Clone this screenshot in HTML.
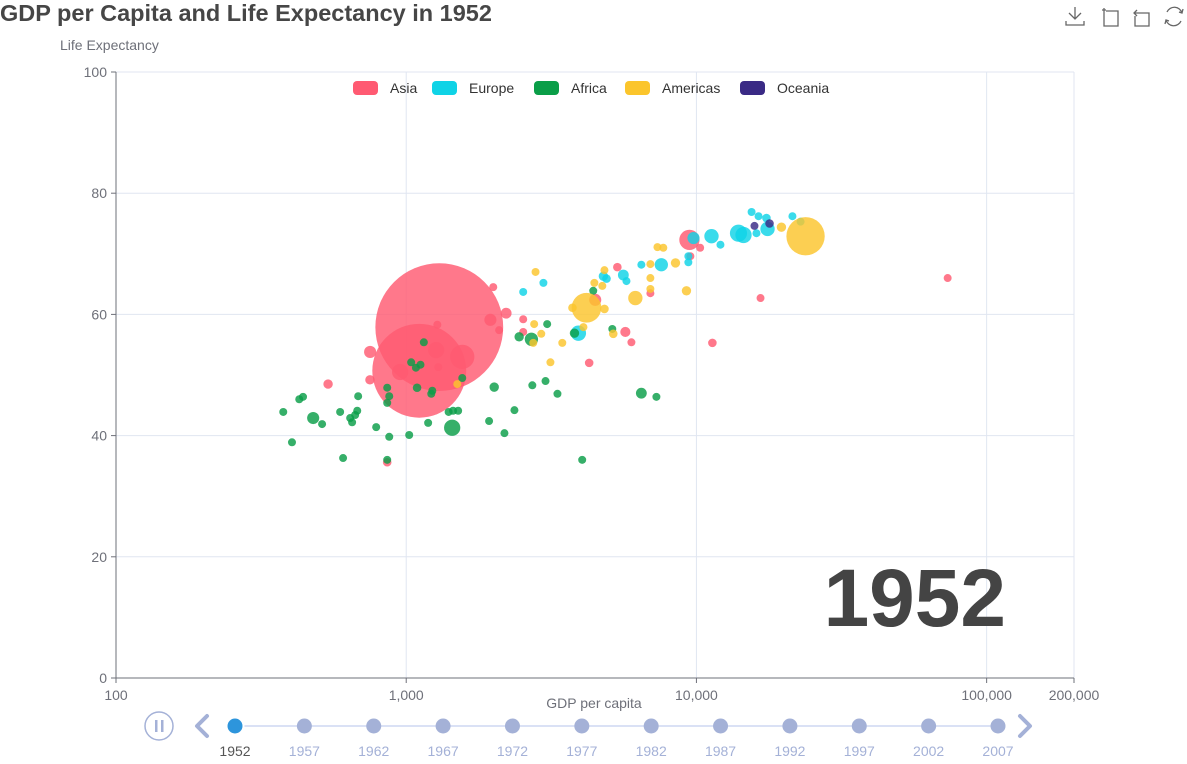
<!DOCTYPE html>
<html><head><meta charset="utf-8"><style>
html,body{margin:0;padding:0;background:#fff;}
svg{display:block;font-family:"Liberation Sans",sans-serif;}
</style></head><body>
<svg id="chart" width="1187" height="764"></svg>
<script>
const regions=["Asia","Europe","Africa","Americas","Oceania"];
const colors=["#ff5a72","#0fd3e6","#0a9e48","#fbc52c","#3a2a85"];
const xTicks=[100,1000,10000,100000,200000];
const xTickLabels=["100","1,000","10,000","100,000","200,000"];
const yTicks=[0,20,40,60,80,100];
const years=["1952","1957","1962","1967","1972","1977","1982","1987","1992","1997","2002","2007"];
// [gdp, life, pop-size]
const asiaData=[[1300,57.9,556],[1109,50.7,300],[1560,53.0,20],[1268,54.1,9],[953,50.5,9],[751,53.8,5],[538,48.5,3],[750,49.2,3],[1950,59.1,5],[2210,60.2,4],[1995,64.5,2],[2090,57.4,2],[2530,59.2,2],[2530,57.1,1.5],[860,35.6,2.5],[9460,72.3,14],[10300,71.0,2],[9530,69.6,2],[5690,57.1,3.5],[5970,55.4,2],[4270,52.0,2.5],[5340,67.8,2.5],[6940,63.5,2],[4480,62.4,5],[11350,55.3,2.5],[16630,62.7,1.5],[73400,66.0,1.5],[1280,58.3,2],[1290,51.3,2]];
const europeData=[[2530,63.7,1.5],[2970,65.2,1.5],[3920,56.9,8],[4780,66.3,3],[4900,65.9,2.5],[5600,66.5,4],[5740,65.5,2],[6460,68.2,2],[7570,68.2,6],[9380,68.6,2],[9380,69.6,2],[9770,72.6,5],[11270,72.9,7],[12100,71.5,2],[13960,73.4,10],[14530,73.1,9],[15490,76.9,1.5],[16370,76.2,2],[17430,75.9,2.5],[16100,73.4,2],[17580,74.1,7],[21420,76.2,2],[22850,75.3,2]];
const africaData=[[1150,55.4,1.5],[1040,52.1,1.5],[1080,51.2,2],[1120,51.7,1.5],[1560,49.5,2],[860,47.9,1.5],[1090,47.9,2.5],[1230,47.4,2],[1220,46.9,2],[874,46.5,2],[860,45.4,2],[683,46.5,1.5],[441,46.4,1.5],[428,46.0,1],[377,43.9,1.5],[478,42.9,5],[513,41.9,2],[592,43.9,1.5],[678,44.1,1.5],[667,43.4,1.5],[641,42.9,1.5],[651,42.2,1.5],[788,41.4,2],[1400,43.9,2],[1450,44.1,2],[1510,44.1,2],[1440,41.3,9],[1190,42.1,1.5],[2010,48.0,3],[2720,48.3,1.5],[3020,49.0,1.5],[3320,46.9,1.5],[2360,44.2,1.5],[1930,42.4,1.5],[2180,40.4,1.5],[404,38.9,1.5],[874,39.8,1.5],[1024,40.1,2],[606,36.3,2],[860,36.0,1.5],[2450,56.3,3],[2700,55.9,6],[3060,58.4,2],[3800,56.9,3],[4410,63.9,1.5],[5130,57.6,1.5],[6460,47.0,4],[7280,46.4,1.5],[4040,36.0,1.5]];
const americasData=[[23770,72.9,50],[4180,61.1,30],[3740,61.1,2.5],[4820,60.9,2.5],[6160,62.7,7],[8470,68.5,3],[6940,68.3,2],[6940,66.0,2],[6940,64.2,2],[9240,63.9,3],[7340,71.1,2],[7690,71.0,2],[4450,65.2,2],[4740,64.7,2],[4820,67.3,2],[2790,67.0,2],[2760,58.4,2],[2920,56.8,2],[4080,57.9,2],[5170,56.8,2.5],[2740,55.3,2],[3450,55.3,2],[3140,52.1,2],[19630,74.4,3],[1500,48.5,2]];
const oceaniaData=[[15850,74.6,2],[17860,75.0,2.5]];
const seriesData=[asiaData,europeData,africaData,americasData,oceaniaData];

const NS="http://www.w3.org/2000/svg";
const svg=document.getElementById('chart');
const L=116,R=1074,T=72,B=678;
const xScale=v=>L+(Math.log10(v)-2)/(Math.log10(200000)-2)*(R-L);
const yScale=v=>B-v/100*(B-T);
function mk(tag,attrs,parent){const e=document.createElementNS(NS,tag);for(const k in attrs)e.setAttribute(k,attrs[k]);(parent||svg).appendChild(e);return e;}
function txt(s,attrs,parent){const e=mk('text',attrs,parent);e.textContent=s;return e;}

let t=txt("GDP per Capita and Life Expectancy in 1952",{x:0,y:21,'font-size':23.5,'font-weight':'bold',fill:'#464646'});

t=txt("Life Expectancy",{x:60,y:50,'font-size':14,fill:'#6e7079'});

t=txt("GDP per capita",{x:594,y:708,'font-size':14,fill:'#6e7079','text-anchor':'middle'});


const grid=mk('g',{});

yTicks.forEach(v=>{
  const y=yScale(v);
  if(v>0){const ln=mk('line',{x1:L,x2:R,y1:y,y2:y,stroke:'#e0e6f1'},grid);}
  const tk=mk('line',{x1:L-5,x2:L,y1:y,y2:y,stroke:'#6e7079'},grid);
  
  const lb=txt(String(v),{x:L-9,y:y+5,'font-size':14,fill:'#6e7079','text-anchor':'end'});
  
});
xTicks.forEach((v,i)=>{
  const x=xScale(v);
  if(i>0){const ln=mk('line',{x1:x,x2:x,y1:T,y2:B,stroke:'#e0e6f1'},grid);}
  const tk=mk('line',{x1:x,x2:x,y1:B,y2:B+5,stroke:'#6e7079'},grid);
  
  const lb=txt(xTickLabels[i],{x:x,y:B+22,'font-size':14,fill:'#6e7079','text-anchor':'middle'});
  
});
let ax=mk('line',{x1:L,x2:L,y1:T,y2:B,stroke:'#6e7079'});

ax=mk('line',{x1:L,x2:R,y1:B,y2:B,stroke:'#6e7079'});


t=txt("1952",{x:1006,y:626,'font-size':82,'font-weight':'bold',fill:'#444','text-anchor':'end'});


seriesData.forEach((arr,si)=>{
  const g=mk('g',{});
  
  
  arr.forEach(d=>{
    const r=Math.max(4,Math.sqrt(d[2])*2.71);
    const c=mk('circle',{cx:xScale(d[0]),cy:yScale(d[1]),r:r,fill:colors[si],'fill-opacity':0.82},g);
    
    
  });
});

const legX=[353,432,534,625,740];
regions.forEach((n,i)=>{
  const g=mk('g',{});
  
  
  mk('rect',{x:legX[i],y:81,width:25,height:14,rx:4,fill:colors[i]},g);
  txt(n,{x:legX[i]+37,y:93,'font-size':14,fill:'#333'},g);
});

const tb=mk('g',{fill:'none',stroke:'#666','stroke-width':1.3});

let ic=mk('path',{d:'M1075 7 V19 M1069 13 L1075 19 L1081 13 M1066 21 V25 H1084 V21'},tb);

ic=mk('path',{d:'M1104 8 V11 M1102 10 H1106 M1104 11 V26 H1118 V11 H1106'},tb);

ic=mk('path',{d:'M1137 10 L1134 13 L1137 16 M1134 13 H1149 V26 H1135 V16'},tb);

ic=mk('path',{d:'M1182 13 A8 8 0 0 0 1167 12 M1166 20 A8 8 0 0 0 1181 21 M1179 12 L1182 13 L1183 9 M1169 21 L1166 20 L1165 24'},tb);


const tl=mk('g',{});

const ty=726,tx0=235,tx1=998;
mk('line',{x1:tx0,x2:tx1,y1:ty,y2:ty,stroke:'#dae1f5','stroke-width':2},tl);
let pb=mk('g',{},tl);

mk('circle',{cx:159,cy:ty,r:14,fill:'none',stroke:'#a4b1d7','stroke-width':1.5},pb);
mk('rect',{x:155,y:720,width:2.5,height:12,fill:'#a4b1d7'},pb);
mk('rect',{x:161,y:720,width:2.5,height:12,fill:'#a4b1d7'},pb);
let ar=mk('path',{d:'M207 716 L197 726 L207 736',fill:'none',stroke:'#a4b1d7','stroke-width':4,'stroke-linecap':'round','stroke-linejoin':'round'},tl);

ar=mk('path',{d:'M1020 716 L1030 726 L1020 736',fill:'none',stroke:'#a4b1d7','stroke-width':4,'stroke-linecap':'round','stroke-linejoin':'round'},tl);

years.forEach((y,i)=>{
  const x=tx0+i*(tx1-tx0)/(years.length-1);
  const cur=i===0;
  const c=mk('circle',{cx:x,cy:ty,r:cur?8.5:7.5,fill:cur?'#2d95dc':'#a4b1d7',stroke:cur?'#fff':'none','stroke-width':2},tl);
  
  const lb=txt(y,{x:x,y:756,'font-size':14,fill:cur?'#555':'#a4b1d7','text-anchor':'middle'},tl);
  
});
</script>
</body></html>
